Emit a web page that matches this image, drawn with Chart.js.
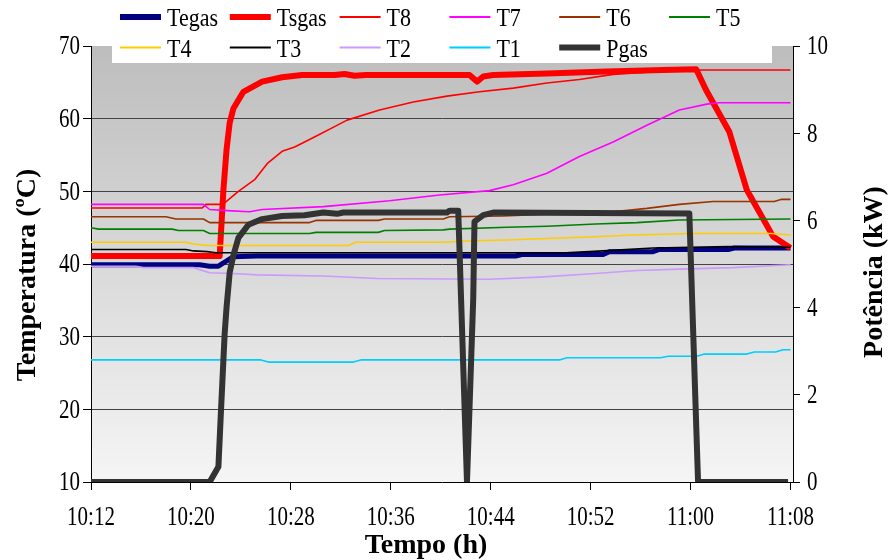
<!DOCTYPE html>
<html>
<head>
<meta charset="utf-8">
<script src="https://cdn.jsdelivr.net/npm/chart.js@4.4.1/dist/chart.umd.min.js"></script>
<style>
  body { margin: 0; background: #fff; }
  #caixa { width: 889px; height: 560px; }
</style>
</head>
<body>
<div id="caixa"><canvas id="grafico" width="889" height="560"></canvas></div>
<script>
// eixo do tempo: minutos desde 10:12
const xTicks = [0, 8, 16, 24, 32, 40, 48, 56];
const xTickLabels = ["10:12", "10:20", "10:28", "10:36", "10:44", "10:52", "11:00", "11:08"];

// temperaturas (ºC)
const tTegas = [0, 8.7, 9.5, 10.2, 11.4, 13.3, 34.0, 34.5, 41.0, 41.5, 45.0, 45.5, 51.0, 51.5, 56];
const vTegas = [39.9, 39.9, 39.7, 39.7, 41.0, 41.1, 41.1, 41.3, 41.3, 41.7, 41.7, 42.0, 42.0, 42.2, 42.2];

const tTsgas = [0, 10.3, 10.6, 10.85, 11.1, 11.4, 12.2, 13.7, 15.3, 16.9, 19.5, 20.3, 21.1, 22.0, 30.3, 30.9, 31.4, 32.2, 36.5, 41.3, 45.8, 48.45, 49.25, 51.1, 52.5, 52.8, 54.6, 56];
const vTsgas = [41.1, 41.1, 50.2, 55.7, 59.4, 61.4, 63.7, 65.1, 65.7, 66.0, 66.0, 66.15, 65.9, 66.0, 66.0, 65.1, 65.8, 66.0, 66.2, 66.5, 66.7, 66.8, 63.9, 58.2, 50.2, 49.3, 43.8, 42.2];

const tT8 = [0, 8.9, 9.2, 10.2, 10.7, 11.8, 13.1, 14.1, 15.3, 16.3, 17.1, 18.2, 19.5, 20.5, 23.1, 25.8, 28.5, 31.1, 33.8, 36.5, 39.1, 41.8, 44.5, 47.1, 48.7, 56];
const vT8 = [47.7, 47.7, 48.2, 48.2, 48.4, 50.0, 51.6, 53.8, 55.5, 56.1, 56.8, 57.75, 58.9, 59.8, 61.2, 62.3, 63.1, 63.7, 64.2, 64.9, 65.4, 66.1, 66.4, 66.6, 66.7, 66.7];

const tT7 = [0, 9.0, 9.5, 10.9, 12.7, 13.7, 18.6, 23.9, 27.9, 31.9, 33.8, 36.5, 39.1, 41.8, 44.5, 47.1, 49.3, 50.3, 56];
const vT7 = [48.2, 48.2, 47.5, 47.35, 47.2, 47.5, 47.9, 48.7, 49.5, 50.1, 50.9, 52.5, 54.8, 56.8, 59.1, 61.2, 62.0, 62.2, 62.2];

const tT6 = [0, 6.0, 6.8, 9.0, 9.5, 17.5, 18.0, 23.0, 23.5, 28.2, 28.7, 33, 37, 41.8, 44.5, 47.1, 49.8, 54.7, 55.3, 56];
const vT6 = [46.5, 46.5, 46.2, 46.2, 45.7, 45.7, 46.0, 46.0, 46.2, 46.2, 46.5, 46.6, 46.9, 47.2, 47.65, 48.2, 48.6, 48.6, 48.9, 48.9];

const tT5 = [0, 0.6, 6.5, 7.0, 9.0, 9.5, 17.5, 18.0, 23.0, 23.5, 28.2, 28.7, 33.3, 36.5, 40.4, 43.7, 47.1, 56];
const vT5 = [45.0, 44.8, 44.8, 44.6, 44.6, 44.2, 44.2, 44.35, 44.35, 44.6, 44.7, 44.8, 45.05, 45.2, 45.5, 45.7, 46.05, 46.2];

const tT4 = [0, 7.6, 8.2, 9.3, 20.6, 21.2, 28.2, 30.5, 33.3, 36.5, 40.4, 43.4, 48.2, 54.5, 56];
const vT4 = [43.0, 43.0, 42.75, 42.55, 42.55, 43.0, 43.0, 43.2, 43.3, 43.5, 43.75, 44.0, 44.2, 44.2, 44.0];

const tT3 = [0, 7.6, 8.2, 9.3, 10.0, 38.0, 41.0, 45.0, 51.0, 56];
const vT3 = [42.0, 42.0, 41.8, 41.7, 41.55, 41.55, 41.8, 42.2, 42.4, 42.3];

const tT2 = [0, 3.6, 4.2, 8.2, 9.5, 11.4, 13.3, 18.6, 22.9, 31.9, 35.9, 40.4, 43.7, 47.1, 51.4, 56];
const vT2 = [39.7, 39.7, 39.5, 39.5, 38.8, 38.7, 38.5, 38.35, 38.0, 37.9, 38.2, 38.7, 39.1, 39.3, 39.5, 39.9];

const tT1 = [0, 13.6, 14.2, 21.0, 21.6, 37.5, 38.1, 45.6, 46.2, 48.5, 49.1, 52.5, 53.1, 54.8, 55.4, 56];
const vT1 = [26.8, 26.8, 26.5, 26.5, 26.8, 26.8, 27.1, 27.1, 27.3, 27.3, 27.6, 27.6, 27.9, 27.9, 28.2, 28.2];

// potencia do gas (kW), eixo da direita
const tPgas = [0, 9.5, 10.2, 10.4, 10.7, 10.85, 11.1, 11.4, 11.8, 12.6, 13.7, 15.3, 17.1, 18.6, 19.7, 20.2, 28.5, 28.7, 29.4, 30.1, 30.6, 30.7, 31.4, 32.2, 47.9, 48.6, 55.8];
const vPgas = [0, 0, 0.35, 1.6, 3.4, 4.0, 4.8, 5.2, 5.6, 5.9, 6.03, 6.1, 6.12, 6.18, 6.15, 6.18, 6.18, 6.22, 6.22, 0, 4.2, 5.97, 6.12, 6.18, 6.16, 0, 0];

const fonte = '"Liberation Serif", "Times New Roman", serif';

function pontos(t, v){
  return t.map((x, i) => ({x: x, y: v[i]}));
}

// texto um pouco "esticado" na vertical, como na figura original
function texto(ctx, s, x, y, sx){
  ctx.save();
  ctx.translate(x, y);
  ctx.scale(sx, 1);
  ctx.fillText(s, 0, 0);
  ctx.restore();
}

// nome, tempos, valores, cor, espessura, eixo, ordem de desenho (Excel: ultimo por cima)
const series = [
  ["Tegas", tTegas, vTegas, "#000080", 5, "y", 10],
  ["Tsgas", tTsgas, vTsgas, "#ff0000", 6, "y", 9],
  ["T8", tT8, vT8, "#ff0000", 1.6, "y", 8],
  ["T7", tT7, vT7, "#ff00ff", 1.6, "y", 7],
  ["T6", tT6, vT6, "#993300", 1.6, "y", 6],
  ["T5", tT5, vT5, "#008000", 1.6, "y", 5],
  ["T4", tT4, vT4, "#ffcc00", 1.6, "y", 4],
  ["T3", tT3, vT3, "#000000", 1.6, "y", 3],
  ["T2", tT2, vT2, "#cc99ff", 1.6, "y", 2],
  ["T1", tT1, vT1, "#00ccff", 1.6, "y", 1],
  ["Pgas", tPgas, vPgas, "#333333", 6, "y1", 0]
];

const fundo = {
  id: "fundo",
  beforeDraw(chart){
    const {ctx, chartArea: a} = chart;
    const g = ctx.createLinearGradient(0, a.top, 0, a.bottom);
    g.addColorStop(0, "#bdbdbd");
    g.addColorStop(1, "#f5f5f5");
    ctx.save();
    ctx.fillStyle = g;
    ctx.fillRect(a.left, a.top, a.right - a.left, a.bottom - a.top);
    ctx.restore();
  }
};

const textos = {
  id: "textos",
  afterDraw(chart){
    const ctx = chart.ctx;
    const sx = chart.scales.x, sy = chart.scales.y, sy1 = chart.scales.y1;
    ctx.save();

    // rotulos dos eixos
    ctx.fillStyle = "#000";
    ctx.font = "28px " + fonte;
    ctx.textBaseline = "middle";
    ctx.textAlign = "right";
    sy.ticks.forEach(t => texto(ctx, String(t.value), 80, sy.getPixelForValue(t.value) + 1, 0.75));
    ctx.textAlign = "left";
    sy1.ticks.forEach(t => texto(ctx, String(t.value), 807, sy1.getPixelForValue(t.value) + 1, 0.75));
    ctx.textAlign = "center";
    xTicks.forEach((v, i) => texto(ctx, xTickLabels[i], sx.getPixelForValue(v), 518, 0.75));

    // legenda
    ctx.fillStyle = "#fff";
    ctx.fillRect(112, 0, 660, 63);
    ctx.font = "25px " + fonte;
    ctx.textBaseline = "alphabetic";
    ctx.textAlign = "left";
    series.forEach((s, i) => {
      const col = i % 6, lin = Math.floor(i / 6);
      const x = 120 + col * 109.8;
      const yb = 26 + lin * 30.5;
      ctx.strokeStyle = s[3];
      ctx.lineWidth = s[4] > 3 ? 6 : 2;
      ctx.beginPath();
      ctx.moveTo(x, yb - 9);
      ctx.lineTo(x + 41, yb - 9);
      ctx.stroke();
      ctx.fillStyle = "#000";
      texto(ctx, s[0], x + 47, yb, 0.88);
    });

    // titulos dos eixos
    ctx.font = "bold 28px " + fonte;
    ctx.textAlign = "center";
    ctx.textBaseline = "middle";
    ctx.fillText("Tempo (h)", 426, 546);
    ctx.save();
    ctx.translate(28, 275);
    ctx.rotate(-Math.PI / 2);
    ctx.fillText("Temperatura (ºC)", 0, 0);
    ctx.restore();
    ctx.save();
    ctx.translate(875, 272);
    ctx.rotate(-Math.PI / 2);
    ctx.fillText("Potência (kW)", 0, 0);
    ctx.restore();
    ctx.restore();
  }
};

const chart = new Chart(document.getElementById("grafico"), {
  type: "line",
  data: {
    datasets: series.map(s => ({
      label: s[0],
      data: pontos(s[1], s[2]),
      borderColor: s[3],
      backgroundColor: s[3],
      borderWidth: s[4],
      yAxisID: s[5],
      order: s[6],
      pointRadius: 0,
      tension: 0,
      fill: false,
      borderJoinStyle: "round"
    }))
  },
  options: {
    responsive: false,
    animation: false,
    events: [],
    layout: { padding: { top: 46, left: 0, right: 0, bottom: 0 } },
    plugins: {
      legend: { display: false },
      tooltip: { enabled: false }
    },
    scales: {
      x: {
        type: "linear",
        min: 0,
        max: 56.2,
        afterBuildTicks: (scale) => { scale.ticks = xTicks.map(v => ({value: v})); },
        afterFit: (scale) => { scale.height = 78; },
        ticks: { display: false },
        grid: { drawOnChartArea: false, drawTicks: true, tickLength: 8, tickColor: "#000" },
        border: { display: true, color: "#000", width: 1 }
      },
      y: {
        position: "left",
        min: 10,
        max: 70,
        afterFit: (scale) => { scale.width = 91; },
        ticks: { stepSize: 10, display: false },
        grid: {
          color: (c) => (c.tick && (c.tick.value === 10 || c.tick.value === 70)) ? "rgba(0,0,0,0)" : "#444",
          lineWidth: 1,
          tickLength: 8,
          tickColor: "#000"
        },
        border: { display: true, color: "#000", width: 1 }
      },
      y1: {
        position: "right",
        min: 0,
        max: 10,
        afterFit: (scale) => { scale.width = 96; },
        ticks: { stepSize: 2, display: false },
        grid: { drawOnChartArea: false, tickLength: 7, tickColor: "#000" },
        border: { display: true, color: "#000", width: 1 }
      }
    }
  },
  plugins: [fundo, textos]
});
</script>
</body>
</html>
